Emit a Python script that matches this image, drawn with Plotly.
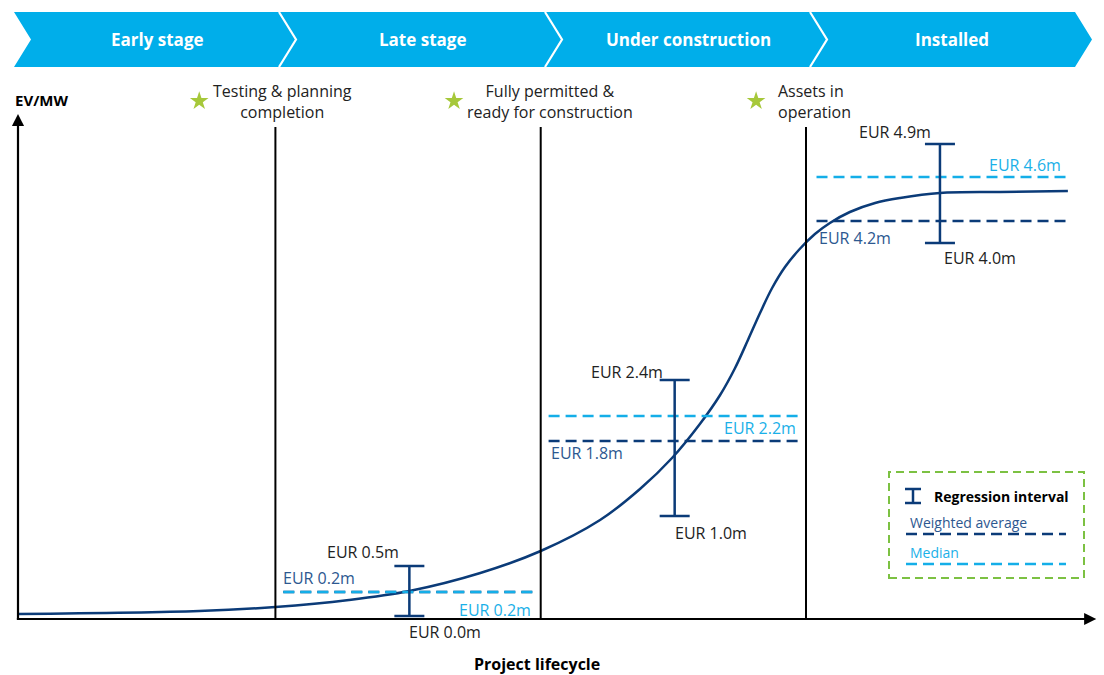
import plotly.graph_objects as go

# ---------------- data ----------------
stages = ["Early stage", "Late stage", "Under construction", "Installed"]
milestones = ["Testing & planning<br>completion", "Fully permitted &<br>ready for construction", "Assets in<br>operation"]
milestone_x = [0.69, 1.66, 2.81]          # lifecycle position of milestone stars
stage_bounds = [0.98, 1.99, 3.0]          # lifecycle positions of stage boundaries

# schematic EV/MW curve (lifecycle position, value)
curve_x = [0.0, 0.69, 0.98, 1.26, 1.49, 1.76, 1.99, 2.216, 2.368, 2.49, 2.596, 2.673,
           2.73, 2.779, 2.825, 2.871, 2.92, 2.976, 3.034, 3.091, 3.167, 3.263, 3.358, 3.51, 3.739, 3.997]
curve_y = [0.05, 0.08, 0.12, 0.19, 0.28, 0.46, 0.68, 0.99, 1.30, 1.61, 1.95, 2.24,
           2.51, 2.79, 3.06, 3.31, 3.52, 3.70, 3.85, 3.96, 4.07, 4.16, 4.21, 4.26, 4.27, 4.28]

# regression intervals per stage (Late stage, Under construction, Installed)
interval_x = [1.49, 2.50, 3.51]
interval_top = [0.53, 2.39, 4.75]
interval_bottom = [0.03, 1.03, 3.76]
weighted_avg = [0.27, 1.78, 3.98]
median = [0.27, 2.03, 4.42]
segment_start = [1.01, 2.02, 3.04]
segment_end = [1.96, 2.97, 3.99]

top_labels = ["EUR 0.5m", "EUR 2.4m", "EUR 4.9m"]
bottom_labels = ["EUR 0.0m", "EUR 1.0m", "EUR 4.0m"]
wavg_labels = ["EUR 0.2m", "EUR 1.8m", "EUR 4.2m"]
median_labels = ["EUR 0.2m", "EUR 2.2m", "EUR 4.6m"]

# ---------------- style ----------------
W, H = 1104, 675
NAVY = "#0b3b78"
LIGHT = "#14aee8"
BANNER = "#00aeea"
GREEN = "#a6c83a"
LEG_GREEN = "#7cc142"
TXT = "#222222"
NAVY_TXT = "#2d5890"
LIGHT_TXT = "#1ab0e8"
FONT = "Open Sans"

def px(x):
    return x / W

def py(y):
    return 1 - y / H

fig = go.Figure()

# curve
fig.add_trace(go.Scatter(x=curve_x, y=curve_y, mode="lines",
                         line=dict(color=NAVY, width=2.5, shape="spline", smoothing=1.0),
                         hoverinfo="skip", showlegend=False))

# dashed levels
for i in range(3):
    fig.add_trace(go.Scatter(x=[segment_start[i], segment_end[i]], y=[weighted_avg[i]] * 2,
                             mode="lines", line=dict(color=NAVY, width=2.5, dash="11px,6px"),
                             showlegend=False, hoverinfo="skip"))
for i in range(3):
    fig.add_trace(go.Scatter(x=[segment_start[i], segment_end[i]], y=[median[i]] * 2,
                             mode="lines", line=dict(color=LIGHT, width=2.5, dash="11px,6px"),
                             showlegend=False, hoverinfo="skip"))

# regression intervals
mid = [(a + b) / 2 for a, b in zip(interval_top, interval_bottom)]
fig.add_trace(go.Scatter(
    x=interval_x, y=mid, mode="markers", marker=dict(size=1, opacity=0),
    error_y=dict(type="data", symmetric=False,
                 array=[t - m for t, m in zip(interval_top, mid)],
                 arrayminus=[m - b for m, b in zip(mid, interval_bottom)],
                 color=NAVY, thickness=2.5, width=15),
    showlegend=False, hoverinfo="skip"))

# milestone stars
fig.add_trace(go.Scatter(x=milestone_x, y=[5.18] * 3, mode="markers",
                         marker=dict(symbol="star", size=14, color=GREEN, line=dict(width=0)),
                         showlegend=False, hoverinfo="skip"))

shapes = []
annotations = []

# stage boundaries
for b in stage_bounds:
    shapes.append(dict(type="line", xref="x", yref="y", x0=b, x1=b, y0=0, y1=4.92,
                       line=dict(color="black", width=2)))

# axes with arrows
annotations.append(dict(x=0, y=5.05, ax=0, ay=-0.02, xref="x", yref="y", axref="x", ayref="y",
                        text="", showarrow=True, arrowhead=2, arrowsize=1.1, arrowwidth=2.2,
                        arrowcolor="black"))
annotations.append(dict(x=4.105, y=0, ax=-0.01, ay=0, xref="x", yref="y", axref="x", ayref="y",
                        text="", showarrow=True, arrowhead=2, arrowsize=1.1, arrowwidth=2.2,
                        arrowcolor="black"))

# banner chevrons
top, midy, bot = 12, 39.5, 67
path = (f"M {px(14)},{py(top)} L {px(1075)},{py(top)} L {px(1092)},{py(midy)} "
        f"L {px(1075)},{py(bot)} L {px(14)},{py(bot)} L {px(31)},{py(midy)} Z")
shapes.append(dict(type="path", xref="paper", yref="paper", path=path,
                   fillcolor=BANNER, line=dict(width=0)))
for tip in [296, 562, 827]:
    p = f"M {px(tip-17)},{py(top)} L {px(tip)},{py(midy)} L {px(tip-17)},{py(bot)}"
    shapes.append(dict(type="path", xref="paper", yref="paper", path=p,
                       line=dict(color="white", width=2.2)))
for name, cx in zip(stages, [157, 422, 688, 952]):
    annotations.append(dict(x=px(cx), y=py(midy), xref="paper", yref="paper", text=f"<b>{name}</b>",
                            showarrow=False, font=dict(family=FONT, size=17, color="white"),
                            xanchor="center", yanchor="middle"))

# milestone labels
ms_pos = [(283, "center"), (550, "center"), (776, "left")]
for txt, (x, anc) in zip(milestones, ms_pos):
    annotations.append(dict(x=px(x), y=py(102), xref="paper", yref="paper", text=txt,
                            showarrow=False, font=dict(family=FONT, size=16, color=TXT),
                            xanchor=anc, yanchor="middle", align=anc))

# axis titles
annotations.append(dict(x=px(13), y=py(100), xref="paper", yref="paper", text="<b>EV/MW</b>",
                        showarrow=False, font=dict(family=FONT, size=15, color="black"),
                        xanchor="left", yanchor="middle"))
annotations.append(dict(x=px(537), y=py(664), xref="paper", yref="paper",
                        text="<b>Project lifecycle</b>", showarrow=False,
                        font=dict(family=FONT, size=16, color="black"),
                        xanchor="center", yanchor="middle"))

# value labels
top_shift = [(-8, 14, "right"), (-10, 8, "right"), (-7, 12, "right")]
bot_shift = [(-2, -16, "left"), (-2, -17, "left"), (2, -15, "left")]
wavg_shift = [(-2, 14, "left"), (0, -12, "left"), (0, -17, "left")]
med_shift = [(0, -18, "right"), (0, -12, "right"), (-3, 12, "right")]
lab_font = dict(family=FONT, size=16)
for i in range(3):
    xs, ys, anc = top_shift[i]
    annotations.append(dict(x=interval_x[i], y=interval_top[i], text=top_labels[i], showarrow=False,
                            xshift=xs, yshift=ys, xanchor=anc, yanchor="middle",
                            font=dict(lab_font, color=TXT)))
    xs, ys, anc = bot_shift[i]
    annotations.append(dict(x=interval_x[i], y=interval_bottom[i], text=bottom_labels[i], showarrow=False,
                            xshift=xs, yshift=ys, xanchor=anc, yanchor="middle",
                            font=dict(lab_font, color=TXT)))
    xs, ys, anc = wavg_shift[i]
    annotations.append(dict(x=segment_start[i], y=weighted_avg[i], text=wavg_labels[i], showarrow=False,
                            xshift=xs, yshift=ys, xanchor=anc, yanchor="middle",
                            font=dict(lab_font, color=NAVY_TXT)))
    xs, ys, anc = med_shift[i]
    annotations.append(dict(x=segment_end[i], y=median[i], text=median_labels[i], showarrow=False,
                            xshift=xs, yshift=ys, xanchor=anc, yanchor="middle",
                            font=dict(lab_font, color=LIGHT_TXT)))

# legend box
shapes.append(dict(type="rect", xref="paper", yref="paper", x0=px(889), x1=px(1084), y0=py(578), y1=py(472),
                   line=dict(color=LEG_GREEN, width=2, dash="8px,5px")))
# I-beam icon
for (x0, y0, x1, y1) in [(905, 489, 921, 489), (905, 503, 921, 503), (913, 489, 913, 503)]:
    shapes.append(dict(type="line", xref="paper", yref="paper", x0=px(x0), x1=px(x1), y0=py(y0), y1=py(y1),
                       line=dict(color=NAVY, width=2.5)))
annotations.append(dict(x=px(932), y=py(496), xref="paper", yref="paper", text="<b>Regression interval</b>",
                        showarrow=False, font=dict(family=FONT, size=14, color="black"),
                        xanchor="left", yanchor="middle"))
annotations.append(dict(x=px(908), y=py(522), xref="paper", yref="paper", text="Weighted average",
                        showarrow=False, font=dict(family=FONT, size=14, color=NAVY_TXT),
                        xanchor="left", yanchor="middle"))
annotations.append(dict(x=px(908), y=py(552), xref="paper", yref="paper", text="Median",
                        showarrow=False, font=dict(family=FONT, size=14, color=LIGHT_TXT),
                        xanchor="left", yanchor="middle"))
shapes.append(dict(type="line", xref="paper", yref="paper", x0=px(906), x1=px(1066), y0=py(534), y1=py(534),
                   line=dict(color=NAVY, width=2.5, dash="11px,6px")))
shapes.append(dict(type="line", xref="paper", yref="paper", x0=px(906), x1=px(1066), y0=py(564), y1=py(564),
                   line=dict(color=LIGHT, width=2.5, dash="11px,6px")))

x_scale = (806 - 18) / 3.0
fig.update_layout(
    width=W, height=H, autosize=False,
    margin=dict(l=0, r=0, t=0, b=0, pad=0),
    paper_bgcolor="white", plot_bgcolor="white",
    xaxis=dict(range=[-18 / x_scale, (W - 18) / x_scale], visible=False, fixedrange=True),
    yaxis=dict(range=[-(H - 619) / 100, 619 / 100], visible=False, fixedrange=True),
    shapes=shapes, annotations=annotations, showlegend=False,
)

fig.write_html("out.html")
